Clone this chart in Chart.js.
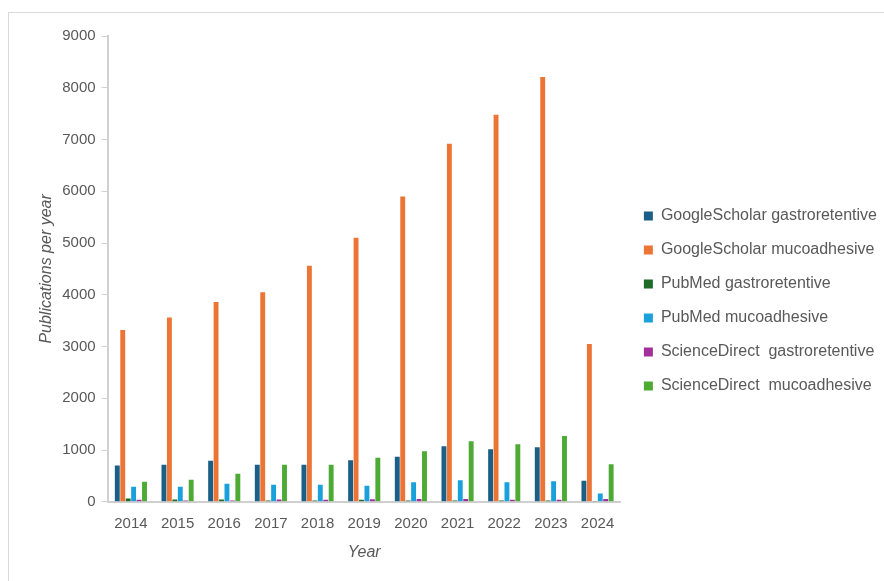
<!DOCTYPE html>
<html>
<head>
<meta charset="utf-8">
<script src="https://cdn.jsdelivr.net/npm/chart.js@4"></script>
<style>
  body { margin: 0; background: #fff; overflow: hidden; }
  #frame { position: absolute; left: 8px; top: 12px; width: 900px; height: 600px; border-left: 1px solid #d9d9d9; border-top: 1px solid #d9d9d9; }
  #box { position: absolute; left: 9px; top: 13px; width: 875px; height: 564px; }
</style>
</head>
<body>
<div id="frame"></div>
<div id="box"><canvas id="graf"></canvas></div>
<script>
// leta in objave na leto (odčitano iz slike)
var years = ['2014', '2015', '2016', '2017', '2018', '2019', '2020', '2021', '2022', '2023', '2024'];
var gsGastro = [700, 716, 793, 716, 716, 805, 870, 1075, 1017, 1056, 406];
var gsMuco = [3320, 3560, 3860, 4050, 4560, 5100, 5900, 6920, 7480, 8210, 3050];
var pmGastro = [64, 45, 45, 25, 25, 40, 25, 25, 25, 25, 5];
var pmMuco = [290, 290, 348, 329, 329, 310, 379, 418, 379, 398, 160];
var sdGastro = [40, 25, 25, 45, 40, 50, 55, 55, 40, 40, 55];
var sdMuco = [387, 425, 541, 716, 716, 851, 979, 1172, 1114, 1269, 727];
var yTicks = [0, 1000, 2000, 3000, 4000, 5000, 6000, 7000, 8000, 9000];

var txt = '#595959';
var fontFam = '"Liberation Sans", Arial, sans-serif';
var legendGap = 2; // dodaten prostor med osjo in legendo
var legendNudge = 3; // premik legende v desno pri risanju

function serija(label, data, color) {
    return { label: label, data: data, backgroundColor: color, borderWidth: 0 };
}

// legendo malo odmakne od grafa
var legendShift = {
    id: 'legendShift',
    afterInit: function (chart) {
        var lg = chart.legend;
        var fit = lg.fit, draw = lg.draw;
        lg.fit = function () { fit.call(this); this.width += legendGap; };
        lg.draw = function () {
            this.left += legendGap + legendNudge;
            draw.call(this);
            this.left -= legendGap + legendNudge;
        };
    }
};

var ctx = document.getElementById('graf').getContext('2d');
var myChart = new Chart(ctx, {
    type: 'bar',
    data: {
        labels: years,
        datasets: [
            serija('GoogleScholar gastroretentive', gsGastro, '#1b5e86'),
            serija('GoogleScholar mucoadhesive', gsMuco, '#ec7535'),
            serija('PubMed gastroretentive', pmGastro, '#1f6b28'),
            serija('PubMed mucoadhesive', pmMuco, '#1aa0da'),
            serija('ScienceDirect  gastroretentive', sdGastro, '#a3309a'),
            serija('ScienceDirect  mucoadhesive', sdMuco, '#4daa34')
        ]
    },
    plugins: [legendShift],
    options: {
        responsive: true,
        maintainAspectRatio: false,
        animation: false,
        layout: { padding: { top: 23, left: 24, right: 0, bottom: 11 } },
        datasets: { bar: { categoryPercentage: 0.7, barPercentage: 0.9 } },
        plugins: {
            tooltip: { enabled: false },
            legend: {
                position: 'right',
                maxWidth: 320,
                labels: {
                    boxWidth: 9, boxHeight: 9, padding: 18,
                    color: txt,
                    font: { family: fontFam, size: 16 }
                }
            }
        },
        scales: {
            x: {
                grid: { display: false },
                border: { color: '#d0d0d0', width: 2 },
                ticks: { color: txt, font: { family: fontFam, size: 15 }, padding: 5 },
                title: { display: true, text: 'Year', color: txt, font: { family: fontFam, size: 16, style: 'italic' }, padding: { top: 5 } }
            },
            y: {
                min: 0, max: 9000,
                afterBuildTicks: function (axis) {
                    axis.ticks = yTicks.map(function (v) { return { value: v }; });
                },
                grid: { drawOnChartArea: false, drawTicks: true, tickLength: 6, color: '#d0d0d0' },
                border: { color: '#d0d0d0', width: 2 },
                ticks: {
                    color: txt, font: { family: fontFam, size: 15 }, padding: 6,
                    callback: function (v) { return String(v); }
                },
                title: { display: true, text: 'Publications per year', color: txt, font: { family: fontFam, size: 16, style: 'italic' }, padding: { bottom: 0 } }
            }
        }
    }
});
</script>
</body>
</html>
